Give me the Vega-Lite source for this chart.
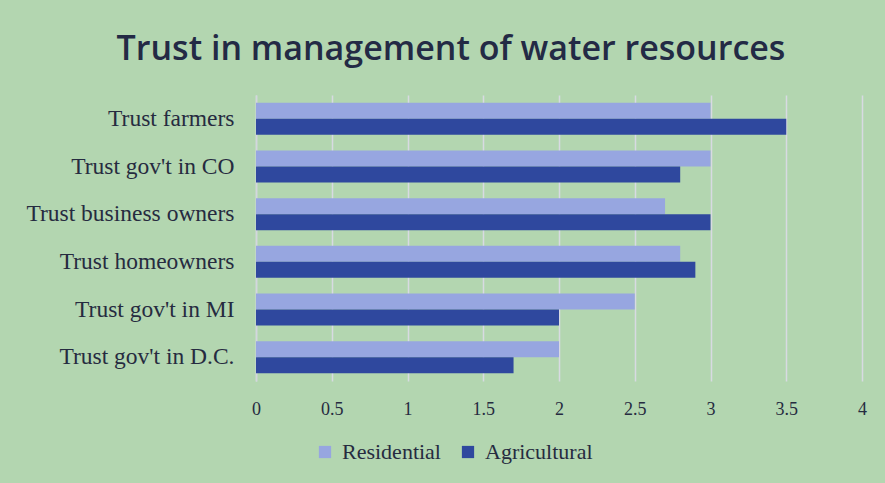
{
  "$schema": "https://vega.github.io/schema/vega-lite/v6.json",
  "width": 606,
  "height": 286,
  "autosize": {"type": "none"},
  "padding": {"left": 256, "top": 95, "right": 23, "bottom": 102},
  "background": "#b3d6b0",
  "title": {
    "text": "Trust in management of water resources",
    "font": "Open Sans",
    "fontSize": 34,
    "fontWeight": 600,
    "color": "#232a45",
    "anchor": "middle",
    "dx": -108,
    "offset": 28
  },
  "data": {
    "values": [
      {"item": "Trust farmers", "type": "Residential", "value": 3.0},
      {"item": "Trust farmers", "type": "Agricultural", "value": 3.5},
      {"item": "Trust gov't in CO", "type": "Residential", "value": 3.0},
      {"item": "Trust gov't in CO", "type": "Agricultural", "value": 2.8},
      {"item": "Trust business owners", "type": "Residential", "value": 2.7},
      {"item": "Trust business owners", "type": "Agricultural", "value": 3.0},
      {"item": "Trust homeowners", "type": "Residential", "value": 2.8},
      {"item": "Trust homeowners", "type": "Agricultural", "value": 2.9},
      {"item": "Trust gov't in MI", "type": "Residential", "value": 2.5},
      {"item": "Trust gov't in MI", "type": "Agricultural", "value": 2.0},
      {"item": "Trust gov't in D.C.", "type": "Residential", "value": 2.0},
      {"item": "Trust gov't in D.C.", "type": "Agricultural", "value": 1.7}
    ]
  },
  "mark": {"type": "bar"},
  "encoding": {
    "y": {
      "field": "item",
      "type": "nominal",
      "sort": null,
      "scale": {"paddingInner": 0.33, "paddingOuter": 0.165},
      "axis": {
        "title": null,
        "ticks": false,
        "domain": true,
        "domainColor": "#d3d6de",
        "domainWidth": 1.5,
        "labelFont": "Liberation Serif",
        "labelFontSize": 23.5,
        "labelColor": "#262b40",
        "labelPadding": 22,
        "labelLimit": 300
      }
    },
    "yOffset": {"field": "type", "type": "nominal", "sort": ["Residential", "Agricultural"]},
    "x": {
      "field": "value",
      "type": "quantitative",
      "scale": {"domain": [0, 4]},
      "axis": {
        "title": null,
        "values": [0, 0.5, 1, 1.5, 2, 2.5, 3, 3.5, 4],
        "format": "~g",
        "ticks": false,
        "domain": false,
        "grid": true,
        "gridColor": "#d8dae2",
        "gridWidth": 1.5,
        "gridOpacity": 1,
        "labelFont": "Liberation Serif",
        "labelFontSize": 18,
        "labelColor": "#262b40",
        "labelPadding": 19,
        "labelFlush": false
      }
    },
    "color": {
      "field": "type",
      "type": "nominal",
      "sort": ["Residential", "Agricultural"],
      "scale": {"domain": ["Residential", "Agricultural"], "range": ["#97a6e0", "#2f489e"]},
      "legend": {
        "title": null,
        "orient": "none",
        "direction": "horizontal",
        "legendX": 58,
        "legendY": 346,
        "symbolType": "square",
        "symbolSize": 150,
        "symbolStrokeWidth": 0,
        "labelFont": "Liberation Serif",
        "labelFontSize": 22,
        "labelColor": "#262b40",
        "columnPadding": 16,
        "labelOffset": 6,
        "labelLimit": 200
      }
    }
  },
  "config": {"view": {"stroke": null}}
}
